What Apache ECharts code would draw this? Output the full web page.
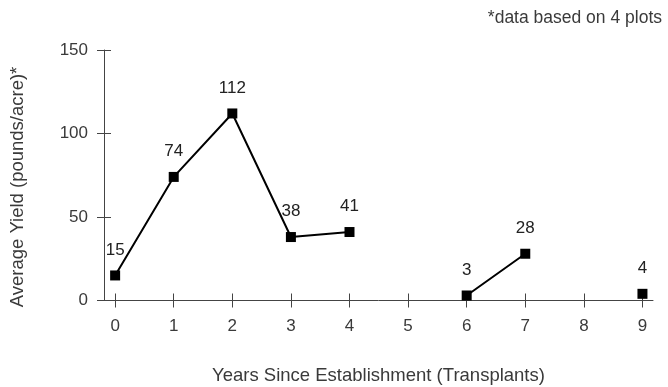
<!DOCTYPE html>
<html><head><meta charset="utf-8">
<script src="https://cdn.jsdelivr.net/npm/echarts@6/dist/echarts.min.js"></script>
<style>html,body{margin:0;padding:0;background:#fff}#c{width:668px;height:387px}</style>
</head><body><div id="c"></div>
<script>
var years = [0, 1, 2, 3, 4, 5, 6, 7, 8, 9];
var yieldValues = [15, 74, 112, 38, 41, null, 3, 28, null, 4];
var yTicks = [0, 50, 100, 150];

var chart = echarts.init(document.getElementById('c'));
var font = '"Liberation Sans", Arial, sans-serif';
var axisColor = '#444';
var textColor = '#3a3a3a';
var pts = years.map(function (y, i) { return [y, yieldValues[i]]; });

function xAx(inside, main) {
  return {
    type: 'value', min: -0.19, max: 9.18, position: 'bottom',
    axisLine: { show: main, onZero: false, lineStyle: { color: axisColor, width: 1 } },
    axisTick: { show: true, inside: inside, length: 7, customValues: years, lineStyle: { color: axisColor } },
    axisLabel: { show: main, customValues: years, margin: 17, color: textColor, fontSize: 17, fontFamily: font },
    splitLine: { show: false },
    name: main ? 'Years Since Establishment (Transplants)' : '',
    nameLocation: 'middle', nameGap: 66,
    nameTextStyle: { color: textColor, fontSize: 18.5, fontFamily: font }
  };
}
function yAx(inside, main) {
  return {
    type: 'value', min: 0, max: 150, interval: 50, position: 'left',
    axisLine: { show: main, onZero: false, lineStyle: { color: axisColor, width: 1 } },
    axisTick: { show: true, inside: inside, length: 7, customValues: yTicks, lineStyle: { color: axisColor } },
    axisLabel: { show: main, customValues: yTicks, margin: 16, color: textColor, fontSize: 17, fontFamily: font },
    splitLine: { show: false }
  };
}

chart.setOption({
  animation: false,
  grid: { left: 104, right: 15, top: 50, bottom: 86.5, containLabel: false, outerBoundsMode: 'none' },
  graphic: [{
    type: 'text', right: 6, top: 9,
    style: { text: '*data based on 4 plots', fill: textColor, fontSize: 17.5, fontFamily: font }
  }, {
    type: 'text', x: 18, y: 187, rotation: Math.PI / 2,
    style: { text: 'Average Yield (pounds/acre)*', fill: textColor, fontSize: 18.5, fontFamily: font,
             align: 'center', verticalAlign: 'middle' }
  }],
  xAxis: [xAx(false, true), xAx(true, false)],
  yAxis: [yAx(false, true), yAx(true, false)],
  series: [{
    type: 'line', xAxisIndex: 0, yAxisIndex: 0,
    data: pts, connectNulls: false,
    symbol: 'rect', symbolSize: 10,
    itemStyle: { color: '#000' },
    lineStyle: { color: '#000', width: 2 },
    label: { show: true, position: 'top', distance: 12, color: '#222', fontSize: 17, fontFamily: font }
  }]
});
</script></body></html>
